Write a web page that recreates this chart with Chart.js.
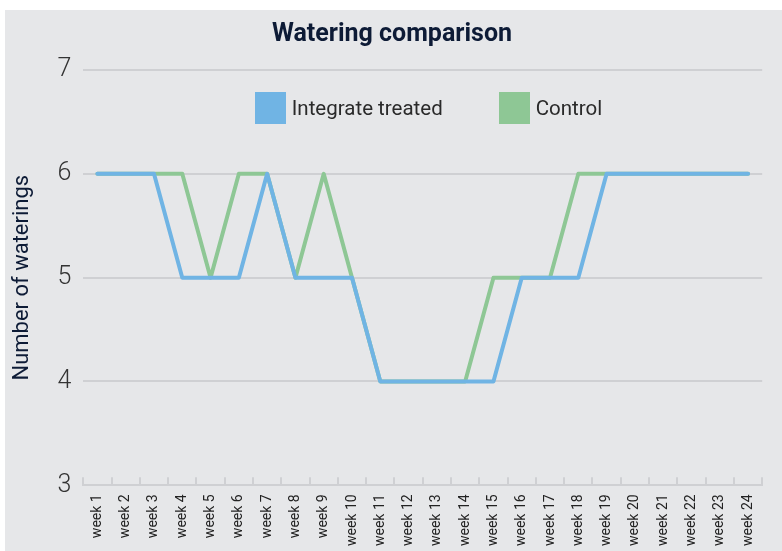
<!DOCTYPE html>
<html>
<head>
<meta charset="utf-8">
<script src="https://cdn.jsdelivr.net/npm/chart.js@4/dist/chart.umd.min.js"></script>
<style>
  body { margin: 0; background: #fff; }
  #wrap { position: absolute; left: 5px; top: 10px; width: 777px; height: 541px; background: #e6e7e9; }
  #legend { position: absolute; left: 77px; width: 693px; top: 82px; display: flex; justify-content: center; align-items: center; font-family: Roboto, sans-serif; font-size: 20.5px; color: #2a2a2a; }
  .item { display: flex; align-items: center; margin: 0 28px; }
  .box { width: 31px; height: 32px; margin-right: 6px; }
</style>
</head>
<body>
<div id="wrap">
  <canvas id="grafica" width="777" height="541"></canvas>
  <div id="legend"></div>
</div>
<script>
// Weekly watering counts
const weeks = ['week 1', 'week 2', 'week 3', 'week 4', 'week 5', 'week 6', 'week 7', 'week 8',
  'week 9', 'week 10', 'week 11', 'week 12', 'week 13', 'week 14', 'week 15', 'week 16',
  'week 17', 'week 18', 'week 19', 'week 20', 'week 21', 'week 22', 'week 23', 'week 24'];
const treated = [6, 6, 6, 5, 5, 5, 6, 5, 5, 5, 4, 4, 4, 4, 4, 5, 5, 5, 6, 6, 6, 6, 6, 6];
const control = [6, 6, 6, 6, 5, 6, 6, 5, 6, 5, 4, 4, 4, 4, 5, 5, 5, 6, 6, 6, 6, 6, 6, 6];
const seriesNames = ['Integrate treated', 'Control'];
const seriesColors = ['#70b4e4', '#8ec795'];

const navy = '#0d1b36';
const gridColor = '#cfd0d3';

const datasets = [treated, control].map((d, i) => ({
    label: seriesNames[i],
    data: d,
    borderColor: seriesColors[i],
    backgroundColor: seriesColors[i],
    borderWidth: 4,
    pointRadius: 0,
    borderCapStyle: 'round',
    borderJoinStyle: 'round',
    tension: 0
}));

// legend drawn as html over the plot
const legend = document.getElementById('legend');
seriesNames.forEach((name, i) => {
    const item = document.createElement('div');
    item.className = 'item';
    item.innerHTML = `<span class="box" style="background:${seriesColors[i]}"></span><span>${name}</span>`;
    legend.appendChild(item);
});

new Chart(document.getElementById('grafica'), {
    type: 'line',
    data: { labels: weeks, datasets: datasets },
    options: {
        responsive: false,
        animation: false,
        layout: { padding: { left: 4, right: 7, top: 0, bottom: -12 } },
        plugins: {
            legend: { display: false },
            tooltip: { enabled: false },
            title: {
                display: true,
                text: 'Watering comparison',
                color: navy,
                font: { family: 'Roboto', size: 25, weight: 'bold' },
                padding: { top: 10, bottom: 20 }
            }
        },
        scales: {
            x: {
                offset: true,
                grid: { offset: true, drawOnChartArea: false, color: gridColor, lineWidth: 2, tickLength: -8 },
                border: { display: true, color: gridColor, width: 2 },
                ticks: {
                    color: '#222',
                    font: { family: 'Roboto', size: 14 },
                    minRotation: 90,
                    maxRotation: 90,
                    autoSkip: false,
                    padding: 17
                }
            },
            y: {
                min: 3,
                max: 7,
                grid: { color: gridColor, lineWidth: 2, drawTicks: false },
                border: { display: false },
                ticks: {
                    stepSize: 1,
                    color: '#333',
                    font: { family: 'Roboto', size: 25, weight: 300 },
                    padding: 12
                },
                title: {
                    display: true,
                    text: 'Number of waterings',
                    color: navy,
                    font: { family: 'Roboto', size: 22 },
                    padding: { top: 0, bottom: 10 }
                }
            }
        }
    }
});
</script>
</body>
</html>
